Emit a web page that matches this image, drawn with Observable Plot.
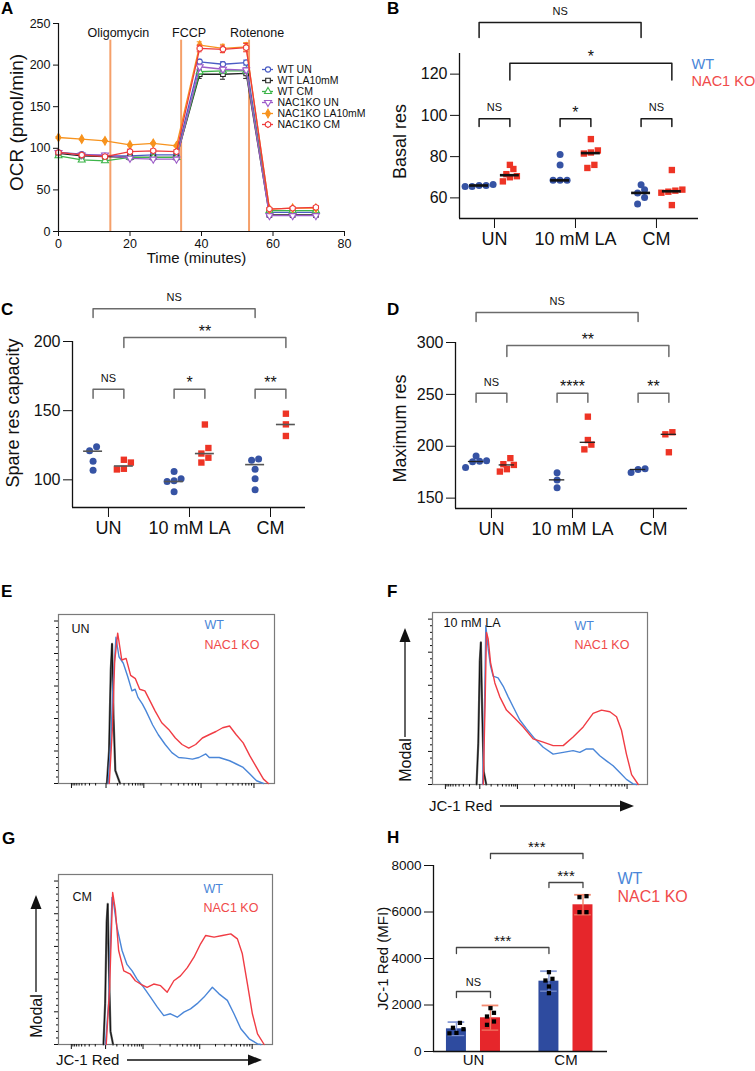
<!DOCTYPE html>
<html><head><meta charset="utf-8">
<script src="https://cdn.jsdelivr.net/npm/d3@7"></script>
<script src="https://cdn.jsdelivr.net/npm/@observablehq/plot@0.6"></script>
<style>
body{margin:0;background:#fff;}
#fig{position:relative;width:755px;height:1071px;overflow:hidden;background:#fff;font-family:"Liberation Sans",Arial,Helvetica,sans-serif;}
</style></head><body><div id="fig"></div>
<script>
// ---------------- Panel A data ----------------
const timeA = [0, 6.5, 13, 20, 26.5, 33, 39.5, 46, 52.5, 59, 65.5, 72];
const seriesA = ["WT UN", "WT LA10mM", "WT CM", "NAC1KO UN", "NAC1KO LA10mM", "NAC1KO CM"];
const ocrWTUN = [95, 93, 91, 91, 92, 92, 204, 201, 203, 23, 23, 23];
const ocrWTLA = [94, 91, 90, 89, 89, 89, 189, 189, 190, 20, 20, 20];
const ocrWTCM = [91, 86, 85, 89, 89, 89, 192, 193, 193, 25, 25, 25];
const ocrKOUN = [95, 92, 92, 88, 87, 87, 198, 195, 194, 19, 19, 19];
const ocrKOLA = [113, 111, 109, 104, 106, 103, 224, 220, 222, 27, 28, 28];
const ocrKOCM = [95, 92, 90, 96, 97, 96, 220, 219, 221, 27, 28, 29];
const semWTUN = [2, 2, 2, 2, 2, 2, 3, 3, 3, 1, 1, 1];
const semWTLA = [2, 2, 2, 2, 2, 2, 5, 6, 6, 1, 1, 1];
const semWTCM = [2, 2, 2, 1, 1, 1, 3, 3, 3, 1, 1, 1];
const semKOUN = [2, 2, 2, 1, 1, 1, 3, 3, 3, 1, 1, 1];
const semKOLA = [1, 1, 1, 1, 1, 1, 4, 5, 5, 1, 1, 1];
const semKOCM = [1, 1, 1, 3, 2, 2, 4, 4, 5, 1, 1, 1];
const drugNames = ["Oligomycin", "FCCP", "Rotenone"];
const drugTimes = [14.5, 34.3, 53.3];

// ---------------- Panels B-D data ----------------
const groups = ["UN", "10 mM LA", "CM"];
const basalWT = [[66, 65.5, 66.5, 65.5, 66], [81, 76, 68.5, 68.5, 68.5], [66.4, 62.4, 64, 60.2, 57]];
const basalKO = [[68, 70, 70.5, 71.5, 74, 76], [74.5, 76, 81.5, 82, 83, 88.5], [56.5, 62.5, 63, 63.5, 64, 73.5]];
const basalWTmid = [66, 68.5, 62.4];
const basalKOmid = [71, 81.7, 63.2];
const basalBrackets = [
  {a: [0, "WT"], b: [2, "WT"], line: 145, leg: 137.8, label: "NS"},
  {a: [0, "KO"], b: [2, "KO"], line: 125.3, leg: 117.1, label: "*"},
  {a: [0, "WT"], b: [0, "KO"], line: 98.4, leg: 94.6, label: "NS"},
  {a: [1, "WT"], b: [1, "KO"], line: 98.4, leg: 94.6, label: "*"},
  {a: [2, "WT"], b: [2, "KO"], line: 98.4, leg: 94.6, label: "NS"}
];

const spareWT = [[124, 121, 113.5, 107], [100.7, 106, 98.8, 99.3, 91.3], [114.2, 115.1, 107.7, 100.7, 92.8]];
const spareKO = [[112.5, 114.5, 107.5, 108], [140, 123, 119, 116, 112.5], [147.8, 140.1, 131.7]];
const spareWTmid = [120.7, 98.8, 111];
const spareKOmid = [110, 119, 140];
const spareBrackets = [
  {a: [0, "WT"], b: [2, "WT"], line: 223.7, leg: 217.3, label: "NS"},
  {a: [0, "KO"], b: [2, "KO"], line: 202.9, leg: 195.7, label: "**"},
  {a: [0, "WT"], b: [0, "KO"], line: 165.5, leg: 159, label: "NS"},
  {a: [1, "WT"], b: [1, "KO"], line: 165.5, leg: 159, label: "*"},
  {a: [2, "WT"], b: [2, "KO"], line: 165.5, leg: 159, label: "**"}
];

const maxWT = [[190.5, 186, 185.5, 185, 179.5], [174.5, 167.5, 160], [174.7, 178.2, 177.6]];
const maxKO = [[188.5, 182.7, 182, 177.9, 175.6], [228.5, 206, 201.6, 197], [213.5, 211.5, 194.2]];
const maxWTmid = [185.3, 167.6, 177.6];
const maxKOmid = [182, 203.8, 211.5];
const maxBrackets = [
  {a: [0, "WT"], b: [2, "WT"], line: 328.8, leg: 320.2, label: "NS"},
  {a: [0, "KO"], b: [2, "KO"], line: 297.1, leg: 286.5, label: "**"},
  {a: [0, "WT"], b: [0, "KO"], line: 251, leg: 242.3, label: "NS"},
  {a: [1, "WT"], b: [1, "KO"], line: 251, leg: 242.3, label: "****"},
  {a: [2, "WT"], b: [2, "KO"], line: 251, leg: 242.3, label: "**"}
];

// ---------------- Panel H data ----------------
const groupsH = ["UN", "CM"];
const mfiWT = [[1230, 1020, 800, 780, 960], [3412, 3126, 3054, 2796, 2509]];
const mfiKO = [[1864, 1663, 1505, 1147, 1290], [6680, 6637, 5993, 5993]];
const mfiWTmean = [975, 3025];
const mfiKOmean = [1450, 6310];
const mfiWTsd = [290, 430];
const mfiKOsd = [530, 430];
const mfiBrackets = [
  {a: [0, "KO"], b: [1, "KO"], line: 8516, leg: 8301, label: "***"},
  {a: [1, "WT"], b: [1, "KO"], line: 7269, leg: 7054, label: "***"},
  {a: [0, "WT"], b: [1, "WT"], line: 4473, leg: 4215, label: "***"},
  {a: [0, "WT"], b: [0, "KO"], line: 2581, leg: 2323, label: "NS"}
];

// ---------------- Panels E-G histogram data (channel %, % of max) ----------------
const histMajor = [6, 22, 39.5, 66, 90.5];
const histYMajor = [0, 20, 40, 60, 80, 100];
const E_iso = [[22.4,0],[23.4,20],[24.2,70],[24.8,86],[25.5,40],[26.3,8],[28.5,0]];
const E_WT = [[23.0,0],[24.2,25],[25.2,60],[26.6,90],[28.0,78],[29.0,76],[30.0,74],[32.0,66],[34.0,57],[35.5,58],[36.8,53],[38.8,49],[40.4,45],[43.6,36],[46.2,30],[49.4,24],[52.5,19],[55.6,16],[58.8,15.6],[62.0,15],[65.0,16],[68.2,18.2],[69.8,16],[74.4,16],[79.2,14],[82.3,12],[85.5,9.9],[88.6,5.8],[91.7,1.7],[94.9,0]];
const E_KO = [[23.5,0],[25.0,35],[26.0,75],[27.4,92.5],[29.3,76],[31.3,77],[33.4,66.5],[35.6,64.5],[37.6,58],[40.0,57],[42.3,51],[44.7,44.7],[47.8,37.4],[51.0,33.3],[54.1,28],[57.2,24],[60.3,21.8],[63.5,24],[66.6,28],[69.7,30],[72.9,32],[76.0,34.3],[79.2,35.4],[82.3,30],[85.5,25],[88.6,17],[91.7,9.9],[94.9,2.7],[97.2,0]];
const F_iso = [[20.5,0],[21.3,25],[22.0,75],[22.5,86],[23.1,45],[23.8,8],[25.0,0]];
const F_WT = [[23.3,0],[24.0,31],[24.8,96],[25.9,82],[27.0,71.6],[28.2,65.5],[30.5,64.5],[32.9,59.4],[35.2,53],[37.5,47],[40.6,39],[43.7,33.8],[47.6,27.6],[51.5,22.5],[56.1,18.4],[60.8,19.4],[65.4,20.5],[68.5,19.4],[71.6,21.5],[74.7,21.5],[77.8,17.4],[80.9,14.3],[84.0,11.3],[87.1,7.2],[90.2,3.1],[93.3,0.4],[94.9,0]];
const F_KO = [[23.6,0],[24.5,51],[25.1,92],[25.9,88],[27.0,73.7],[29.0,61.4],[31.3,53],[34.4,45],[38.3,40],[42.2,34.8],[46.8,27.6],[51.5,25.6],[56.1,23.5],[60.8,23.5],[65.4,28.7],[70.1,34.8],[74.7,43],[78.6,45],[82.5,44],[85.6,41],[87.9,32.8],[90.2,18.4],[92.6,6],[95.7,0]];
const G_iso = [[21.0,0],[21.8,25],[22.5,75],[23.0,86],[23.6,45],[24.3,8],[25.5,0]];
const G_WT = [[21.9,0],[23.4,25],[25.0,90],[25.8,86],[27.3,72],[29.7,57.5],[32.0,49],[34.4,45],[36.7,40],[39.8,35],[43.0,29],[46.1,23],[49.2,17.7],[52.3,18.8],[55.5,16.7],[58.6,19.8],[61.7,21.8],[64.8,25],[68.0,29],[71.9,35],[75.0,31],[78.9,27],[82.0,18.8],[85.2,9.6],[89.1,3.5],[93.0,0.4],[94.5,0]];
const G_KO = [[22.3,0],[23.9,35],[25.3,93],[26.6,82],[28.1,57.5],[30.5,45],[33.6,43],[35.9,39],[38.3,37],[41.4,35],[44.5,37],[47.7,36],[50.8,32],[53.9,39],[57.0,42],[60.2,47],[63.3,53.4],[66.4,61.6],[68.8,66.7],[72.7,65.7],[76.6,66.7],[80.5,67.7],[83.6,64.6],[85.9,55.5],[88.3,37],[90.6,18.8],[93.0,6.5],[96.1,0]];

// ---------------- helpers ----------------
const FONT = '"Liberation Sans", Arial, Helvetica, sans-serif';
const fig = document.getElementById("fig");
function put(node, left, top) {
  node.style.position = "absolute";
  node.style.left = left + "px";
  node.style.top = top + "px";
  fig.appendChild(node);
}
const baseStyle = {fontFamily: FONT, background: "transparent", color: "#111", overflow: "visible"};
const WTC = "#3653a4", KOC = "#ee3425", WTTXT = "#4a86d8", KOTXT = "#f04a4a";

function swarm(vals, center, ppu, stepUnits, diamPx) {
  const s = vals.slice().sort((a, b) => a - b);
  const rows = []; let row = [];
  for (const v of s) {
    if (row.length && (v - row[0]) * ppu >= diamPx) { rows.push(row); row = []; }
    row.push(v);
  }
  if (row.length) rows.push(row);
  const out = [];
  for (const r of rows) r.forEach((v, i) => out.push({x: center + (i - (r.length - 1) / 2) * stepUnits, y: v}));
  return out;
}
function bracketMarks(brackets, pos, color, width, nsDy, starDy, starSize) {
  const rows = [], labels = [];
  brackets.forEach((b, j) => {
    const x1 = pos(b.a[0], b.a[1]), x2 = pos(b.b[0], b.b[1]);
    rows.push({j, x: x1, y: b.leg}, {j, x: x1, y: b.line}, {j, x: x2, y: b.line}, {j, x: x2, y: b.leg});
    labels.push({x: (x1 + x2) / 2, y: b.line, label: b.label});
  });
  return [
    Plot.line(rows, {x: "x", y: "y", z: "j", stroke: color, strokeWidth: width}),
    Plot.text(labels.filter(d => d.label === "NS"), {x: "x", y: "y", text: "label", dy: nsDy, fontSize: 11, lineAnchor: "middle"}),
    Plot.text(labels.filter(d => d.label !== "NS"), {x: "x", y: "y", text: "label", dy: starDy, fontSize: starSize, lineAnchor: "middle"})
  ];
}

// ---------------- Panel A ----------------
const A_VALUES = [ocrWTUN, ocrWTLA, ocrWTCM, ocrKOUN, ocrKOLA, ocrKOCM];
const A_SEM = [semWTUN, semWTLA, semWTCM, semKOUN, semKOLA, semKOCM];
const A_COLORS = ["#4a5cc4", "#222222", "#3db54a", "#9d5cc9", "#f7931e", "#ee3b3b"];
const triDown = {draw(ctx, size) {
  const y = -Math.sqrt(size / (Math.sqrt(3) * 3)), s3 = Math.sqrt(3);
  ctx.moveTo(0, -y * 2); ctx.lineTo(-s3 * y, y); ctx.lineTo(s3 * y, y); ctx.closePath();
}};
const A_SYMBOLS = ["circle", "square", "triangle", triDown, "diamond", "hexagon"];
const A_FILL = ["white", "white", "white", "white", "#f7931e", "white"];
const drugRows = drugNames.map((name, i) => ({name, t: drugTimes[i]}));
const aMarks = [
  Plot.ruleX(drugRows, {x: "t", y1: 0, y2: 230, stroke: "#f5a06a", strokeWidth: 2}),
  Plot.text(drugRows, {x: "t", text: "name", frameAnchor: "top", dy: 9, dx: 8, fontSize: 12.5, lineAnchor: "middle"})
];
seriesA.forEach((name, si) => {
  const rows = timeA.map((t, i) => ({t, v: A_VALUES[si][i], e: A_SEM[si][i]}));
  const c = A_COLORS[si];
  aMarks.push(
    Plot.ruleX(rows, {x: "t", y1: d => d.v - d.e, y2: d => d.v + d.e, stroke: c, strokeWidth: 1}),
    Plot.ruleY(rows, {y: d => d.v + d.e, x1: d => d.t - 0.7, x2: d => d.t + 0.7, stroke: c, strokeWidth: 1}),
    Plot.ruleY(rows, {y: d => d.v - d.e, x1: d => d.t - 0.7, x2: d => d.t + 0.7, stroke: c, strokeWidth: 1}),
    Plot.line(rows, {x: "t", y: "v", stroke: c, strokeWidth: 1.3}),
    Plot.dot(rows, {x: "t", y: "v", symbol: A_SYMBOLS[si], r: 2.6, stroke: c, fill: A_FILL[si], strokeWidth: 1.1})
  );
});
aMarks.push(
  Plot.ruleY([0], {stroke: "#111", strokeWidth: 1.2}),
  Plot.ruleX([0], {stroke: "#111", strokeWidth: 1.2}),
  Plot.axisX({ticks: [0, 20, 40, 60, 80], tickSize: 5, tickPadding: 3, fontSize: 12.5, label: null}),
  Plot.axisY({ticks: [0, 50, 100, 150, 200, 250], tickSize: 5, tickPadding: 3, fontSize: 12.5, label: null}),
  Plot.text(["Time (minutes)"], {text: d => d, frameAnchor: "bottom", dy: 27, dx: -5, fontSize: 15, lineAnchor: "middle"}),
  Plot.text(["OCR (pmol/min)"], {text: d => d, frameAnchor: "left", dx: -42, dy: -5, rotate: -90, fontSize: 19, textAnchor: "middle", lineAnchor: "middle"})
);
put(Plot.plot({
  width: 378, height: 268, marginLeft: 58, marginRight: 34, marginTop: 23, marginBottom: 37,
  x: {domain: [0, 80]}, y: {domain: [0, 250]},
  style: baseStyle, marks: aMarks
}), 0, 0);

// legend A
const legMarks = [];
seriesA.forEach((name, si) => {
  legMarks.push(
    Plot.ruleY([name], {y: d => d, x1: 0, x2: 1, stroke: A_COLORS[si], strokeWidth: 1.3}),
    Plot.dot([name], {y: d => d, x: 0.5, symbol: A_SYMBOLS[si], r: 2.6, stroke: A_COLORS[si], fill: A_FILL[si], strokeWidth: 1.1}),
    Plot.text([name], {y: d => d, x: 1, text: d => d, dx: 4, textAnchor: "start", fontSize: 10.5, lineAnchor: "middle"})
  );
});
put(Plot.plot({
  width: 125, height: 90, margin: 0,
  x: {domain: [0, 1], range: [4, 15], axis: null},
  y: {type: "point", domain: seriesA, range: [7, 78], axis: null},
  style: baseStyle, marks: legMarks
}), 258, 54);

// ---------------- Panels B, C, D ----------------
function dotPanel(o) {
  const fh = o.height - o.mt - o.mb, fw = o.width - o.ml - o.mr;
  const ppu = fh / (o.yDomain[1] - o.yDomain[0]);
  const ppx = fw / (o.xDomain[1] - o.xDomain[0]);
  const off = 0.19, step = 7 / ppx;
  const pos = (ci, g) => ci + (g === "WT" ? -off : off);
  const wtPts = [], koPts = [];
  o.wt.forEach((vals, ci) => wtPts.push(...swarm(vals, pos(ci, "WT"), ppu, step, 7)));
  o.ko.forEach((vals, ci) => koPts.push(...swarm(vals, pos(ci, "KO"), ppu, step, 7)));
  const mids = [...o.wtMid.map((v, ci) => ({x: pos(ci, "WT"), y: v})), ...o.koMid.map((v, ci) => ({x: pos(ci, "KO"), y: v}))];
  const hw = o.midHalf;
  const marks = [
    Plot.ruleX([o.xDomain[0]], {stroke: "#111", strokeWidth: 1.3}),
    Plot.ruleY([o.yDomain[0]], {stroke: "#111", strokeWidth: 1.3}),
    Plot.axisY({ticks: o.yTicks, tickSize: 9, tickPadding: 3, fontSize: 16, label: null}),
    Plot.axisX({ticks: [0, 1, 2], tickFormat: i => groups[i], tickSize: 10, tickPadding: 4, fontSize: 18, label: null}),
    Plot.dot(wtPts, {x: "x", y: "y", r: 3.5, fill: WTC}),
    Plot.dot(koPts, {x: "x", y: "y", r: 3.6, symbol: "square", fill: KOC}),
    Plot.ruleY(mids, {y: "y", x1: d => d.x - hw, x2: d => d.x + hw, stroke: o.midColor, strokeWidth: o.midWidth}),
    ...bracketMarks(o.brackets, pos, o.bracketColor, 1.5, -11, -6, 16),
    Plot.text([o.ylabel], {text: d => d, frameAnchor: "left", dx: o.ldx, dy: o.ldy, rotate: -90, fontSize: 18, textAnchor: "middle", lineAnchor: "middle"})
  ];
  if (o.legend) {
    marks.push(
      Plot.text(["WT"], {text: d => d, frameAnchor: "top-right", dx: -7, dy: 11, textAnchor: "start", lineAnchor: "middle", fontSize: 14.5, fill: WTTXT}),
      Plot.text(["NAC1 KO"], {text: d => d, frameAnchor: "top-right", dx: -7, dy: 28, textAnchor: "start", lineAnchor: "middle", fontSize: 14.5, fill: KOTXT})
    );
  }
  return Plot.plot({
    width: o.width, height: o.height, marginLeft: o.ml, marginRight: o.mr, marginTop: o.mt, marginBottom: o.mb,
    x: {domain: o.xDomain}, y: {domain: o.yDomain},
    style: baseStyle, marks
  });
}
put(dotPanel({width: 377, height: 268, ml: 81, mr: 57, mt: 53, mb: 50, xDomain: [-0.432, 2.519], yDomain: [50, 130],
  yTicks: [60, 80, 100, 120], wt: basalWT, ko: basalKO, wtMid: basalWTmid, koMid: basalKOmid, brackets: basalBrackets,
  bracketColor: "#1a1a1a", midColor: "#111", midWidth: 2.6, midHalf: 0.117, ylabel: "Basal res", ldx: -59, ldy: 5.5, legend: true}), 378, 0);
put(dotPanel({width: 378, height: 275, ml: 72, mr: 73, mt: 71, mb: 38, xDomain: [-0.444, 2.432], yDomain: [80, 200],
  yTicks: [100, 150, 200], wt: spareWT, ko: spareKO, wtMid: spareWTmid, koMid: spareKOmid, brackets: spareBrackets,
  bracketColor: "#6b6b6b", midColor: "#555", midWidth: 1.6, midHalf: 0.117, ylabel: "Spare res capacity", ldx: -59, ldy: -11.5}), 0, 270);
put(dotPanel({width: 377, height: 275, ml: 77, mr: 68, mt: 72, mb: 37, xDomain: [-0.444, 2.42], yDomain: [140, 300],
  yTicks: [150, 200, 250, 300], wt: maxWT, ko: maxKO, wtMid: maxWTmid, koMid: maxKOmid, brackets: maxBrackets,
  bracketColor: "#6b6b6b", midColor: "#222", midWidth: 1.3, midHalf: 0.095, ylabel: "Maximum res", ldx: -55, ldy: 3}), 378, 270);

// ---------------- Panels E, F, G ----------------
function logMinors(m) {
  const out = [];
  for (let k = 2; k < 10; k++) out.push(m[1] - (m[1] - m[0]) * Math.log10(k));
  for (let i = 1; i < m.length - 1; i++) for (let k = 2; k < 10; k++) out.push(m[i] + (m[i + 1] - m[i]) * Math.log10(k));
  return out;
}
const histMinor = logMinors(histMajor);
const histYMinor = d3.range(0, 104, 4).filter(v => v % 20 !== 0);
function histPanel(o) {
  const fx = d => d[0], fy = d => d[1];
  return Plot.plot({
    width: o.width, height: o.height, marginLeft: o.ml, marginRight: o.mr, marginTop: o.mt, marginBottom: o.mb,
    x: {domain: [0, 100]}, y: {domain: [0, 104]},
    style: baseStyle,
    marks: [
      Plot.frame({stroke: "#7a7a7a", strokeWidth: 1.2}),
      Plot.axisX({ticks: histMajor, tickSize: 5, tickFormat: () => "", label: null}),
      Plot.axisX({ticks: histMinor, tickSize: 2.5, tickFormat: () => "", label: null}),
      Plot.axisY({ticks: histYMajor, tickSize: 4, tickFormat: () => "", label: null}),
      Plot.axisY({ticks: histYMinor, tickSize: 2, tickFormat: () => "", label: null}),
      Plot.line(o.iso, {x: fx, y: fy, stroke: "#666", strokeWidth: 2.2}),
      Plot.line(o.iso, {x: fx, y: fy, stroke: "#111", strokeWidth: 1}),
      Plot.line(o.wt, {x: fx, y: fy, stroke: "#4a86d8", strokeWidth: 1.4}),
      Plot.line(o.ko, {x: fx, y: fy, stroke: "#f03c44", strokeWidth: 1.4}),
      Plot.text([o.cond], {text: d => d, frameAnchor: "top-left", dx: o.cdx, dy: o.cdy, textAnchor: "start", lineAnchor: "middle", fontSize: 12.5}),
      Plot.text(["WT"], {text: d => d, frameAnchor: "top-right", dx: o.ldx, dy: o.wdy, textAnchor: "start", lineAnchor: "middle", fontSize: 12.5, fill: WTTXT}),
      Plot.text(["NAC1 KO"], {text: d => d, frameAnchor: "top-right", dx: o.ldx, dy: o.kdy, textAnchor: "start", lineAnchor: "middle", fontSize: 12.5, fill: KOTXT})
    ]
  });
}
put(histPanel({width: 378, height: 200, ml: 58, mr: 104, mt: 14, mb: 17, iso: E_iso, wt: E_WT, ko: E_KO,
  cond: "UN", cdx: 13, cdy: 14, ldx: -70, wdy: 10, kdy: 30}), 0, 600);
put(histPanel({width: 377, height: 230, ml: 54, mr: 108, mt: 14, mb: 44, iso: F_iso, wt: F_WT, ko: F_KO,
  cond: "10 mM LA", cdx: 11, cdy: 10, ldx: -73, wdy: 13, kdy: 32}), 378, 598);
put(histPanel({width: 378, height: 211, ml: 58, mr: 106, mt: 14, mb: 27, iso: G_iso, wt: G_WT, ko: G_KO,
  cond: "CM", cdx: 14, cdy: 22, ldx: -69, wdy: 14, kdy: 33}), 0, 860);

// ---------------- Panel H ----------------
(function () {
  const ml = 55, mr = 148, mt = 30, mb = 20, width = 377, height = 236;
  const xDomain = [-0.432, 1.449], yDomain = [0, 8000];
  const ppx = (width - ml - mr) / (xDomain[1] - xDomain[0]);
  const ppu = (height - mt - mb) / (yDomain[1] - yDomain[0]);
  const off = 0.184, bh = 0.108, cap = 0.09;
  const pos = (ci, g) => ci + (g === "WT" ? -off : off);
  const bars = [
    ...mfiWTmean.map((m, ci) => ({x: pos(ci, "WT"), m, sd: mfiWTsd[ci], fill: "#2e4b9f", err: "#8b9ed8"})),
    ...mfiKOmean.map((m, ci) => ({x: pos(ci, "KO"), m, sd: mfiKOsd[ci], fill: "#e6262b", err: "#f38a70"}))
  ];
  const pts = [];
  mfiWT.forEach((vals, ci) => pts.push(...swarm(vals, pos(ci, "WT"), ppu, 7 / ppx, 5)));
  mfiKO.forEach((vals, ci) => pts.push(...swarm(vals, pos(ci, "KO"), ppu, 7 / ppx, 5)));
  put(Plot.plot({
    width, height, marginLeft: ml, marginRight: mr, marginTop: mt, marginBottom: mb,
    x: {domain: xDomain}, y: {domain: yDomain},
    style: baseStyle,
    marks: [
      Plot.rect(bars, {x1: d => d.x - bh, x2: d => d.x + bh, y1: 0, y2: "m", fill: "fill"}),
      Plot.ruleX(bars, {x: "x", y1: d => d.m - d.sd, y2: "m", stroke: "err", strokeWidth: 1.3, strokeOpacity: 0.8}),
      Plot.ruleY(bars, {y: d => d.m - d.sd, x1: d => d.x - cap, x2: d => d.x + cap, stroke: "err", strokeWidth: 1.3, strokeOpacity: 0.8}),
      Plot.ruleX(bars, {x: "x", y1: "m", y2: d => d.m + d.sd, stroke: "err", strokeWidth: 1.5}),
      Plot.ruleY(bars, {y: d => d.m + d.sd, x1: d => d.x - cap, x2: d => d.x + cap, stroke: "err", strokeWidth: 1.8}),
      Plot.dot(pts, {x: "x", y: "y", r: 2.4, symbol: "square", fill: "#000"}),
      Plot.ruleX([xDomain[0]], {stroke: "#111", strokeWidth: 1.3}),
      Plot.ruleY([0], {stroke: "#111", strokeWidth: 1.3}),
      Plot.axisY({ticks: [0, 2000, 4000, 6000, 8000], tickFormat: d => String(d), tickSize: 9, tickPadding: 3, fontSize: 13.5, label: null}),
      Plot.axisX({ticks: [0, 1], tickFormat: i => groupsH[i], tickSize: 0, tickPadding: 3, fontSize: 15, label: null}),
      ...bracketMarks(mfiBrackets, pos, "#444", 1.3, -9, -6, 15),
      Plot.text(["JC-1 Red (MFI)"], {text: d => d, frameAnchor: "left", dx: -50, rotate: -90, fontSize: 15, textAnchor: "middle", lineAnchor: "middle"}),
      Plot.text(["WT"], {text: d => d, frameAnchor: "top-right", dx: 10, dy: 13, textAnchor: "start", lineAnchor: "middle", fontSize: 16, fill: WTTXT}),
      Plot.text(["NAC1 KO"], {text: d => d, frameAnchor: "top-right", dx: 10, dy: 31, textAnchor: "start", lineAnchor: "middle", fontSize: 16, fill: KOTXT})
    ]
  }), 378, 835);
})();

// ---------------- overlay: panel letters and axis arrows ----------------
const ov = d3.create("svg").attr("width", 755).attr("height", 1071)
  .style("position", "absolute").style("left", "0px").style("top", "0px")
  .style("pointer-events", "none").style("font-family", FONT);
const letters = [["A", 1, 14], ["B", 387, 14], ["C", 1, 315], ["D", 387, 315], ["E", 1, 597], ["F", 387, 597], ["G", 2, 844], ["H", 387, 843]];
for (const [t, x, y] of letters) ov.append("text").attr("x", x).attr("y", y).attr("font-size", 17).attr("font-weight", "bold").attr("fill", "#000").text(t);
function hArrow(label, tx, ty, x1, x2) {
  ov.append("text").attr("x", tx).attr("y", ty).attr("dy", "0.35em").attr("font-size", 15).attr("fill", "#111").text(label);
  ov.append("line").attr("x1", x1).attr("x2", x2 - 12).attr("y1", ty).attr("y2", ty).attr("stroke", "#111").attr("stroke-width", 1.3);
  ov.append("path").attr("d", `M${x2 - 14},${ty - 5.5}L${x2},${ty}L${x2 - 14},${ty + 5.5}Z`).attr("fill", "#111");
}
function vArrow(label, cx, cy, y1, y2) {
  ov.append("text").attr("transform", `translate(${cx},${cy}) rotate(-90)`).attr("text-anchor", "middle").attr("dy", "0.35em").attr("font-size", 16).attr("fill", "#111").text(label);
  ov.append("line").attr("x1", cx).attr("x2", cx).attr("y1", y1).attr("y2", y2 + 12).attr("stroke", "#111").attr("stroke-width", 1.3);
  ov.append("path").attr("d", `M${cx - 5.5},${y2 + 14}L${cx},${y2}L${cx + 5.5},${y2 + 14}Z`).attr("fill", "#111");
}
hArrow("JC-1 Red", 429, 806, 500, 634);
vArrow("Modal", 405, 760, 737, 628);
hArrow("JC-1 Red", 56, 1060, 127, 262);
vArrow("Modal", 36, 1016, 992, 895);
fig.appendChild(ov.node());
</script></body></html>
